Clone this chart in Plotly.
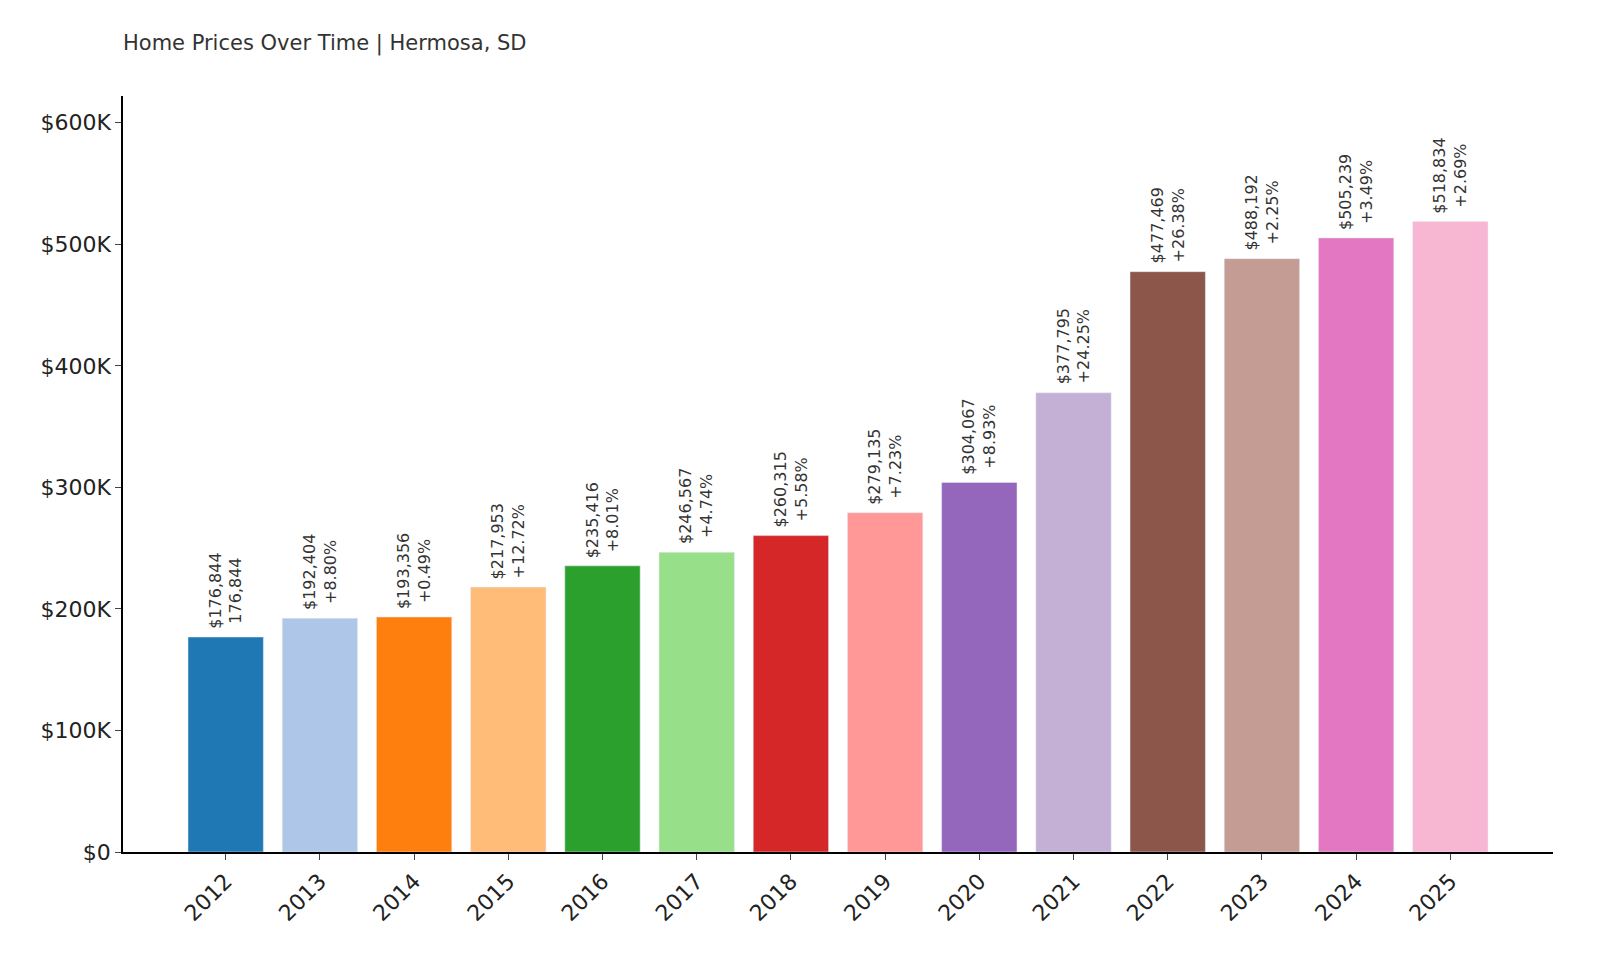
import plotly.graph_objects as go

years = ["2012", "2013", "2014", "2015", "2016", "2017", "2018", "2019", "2020", "2021", "2022", "2023", "2024", "2025"]
prices = [176844, 192404, 193356, 217953, 235416, 246567, 260315, 279135, 304067, 377795, 477469, 488192, 505239, 518834]
changes = ["176,844", "+8.80%", "+0.49%", "+12.72%", "+8.01%", "+4.74%", "+5.58%", "+7.23%", "+8.93%", "+24.25%", "+26.38%", "+2.25%", "+3.49%", "+2.69%"]
colors = ["#1f77b4", "#aec7e8", "#ff7f0e", "#ffbb78", "#2ca02c", "#98df8a", "#d62728",
          "#ff9896", "#9467bd", "#c5b0d5", "#8c564b", "#c49c94", "#e377c2", "#f7b6d2"]

xs = list(range(len(years)))
fig = go.Figure(go.Bar(x=xs, y=prices, marker_color=colors, width=0.8, hoverinfo="skip"))

for i, (p, c) in enumerate(zip(prices, changes)):
    fig.add_annotation(x=i, y=p, text=f"${p:,}<br>{c}", textangle=-90, showarrow=False,
                       xanchor="center", yanchor="bottom", yshift=6,
                       font=dict(size=16, color="#333"))

fig.update_layout(
    width=1600, height=960, plot_bgcolor="white", paper_bgcolor="white",
    margin=dict(l=115, r=55, t=88, b=116),
    font=dict(family="DejaVu Sans", color="#222"),
    title=dict(text="Home Prices Over Time | Hermosa, SD", x=115/1600, xanchor="left",
               y=1 - 35/960, yanchor="middle", font=dict(size=21, color="#333")),
    showlegend=False,
)
fig.update_xaxes(range=[-1.09, 14.09], tickvals=xs, ticktext=years, tickangle=-45,
                 tickfont=dict(size=22), showline=True, linecolor="black", linewidth=1.5,
                 ticks="outside", ticklen=6, showgrid=False, zeroline=False)
fig.update_yaxes(range=[0, 622000], tickvals=[0, 100000, 200000, 300000, 400000, 500000, 600000],
                 ticktext=["$0", "$100K", "$200K", "$300K", "$400K", "$500K", "$600K"],
                 tickfont=dict(size=22), showline=True, linecolor="black", linewidth=1.5,
                 ticks="outside", ticklen=6, showgrid=False, zeroline=False)

fig.write_html("out.html")
